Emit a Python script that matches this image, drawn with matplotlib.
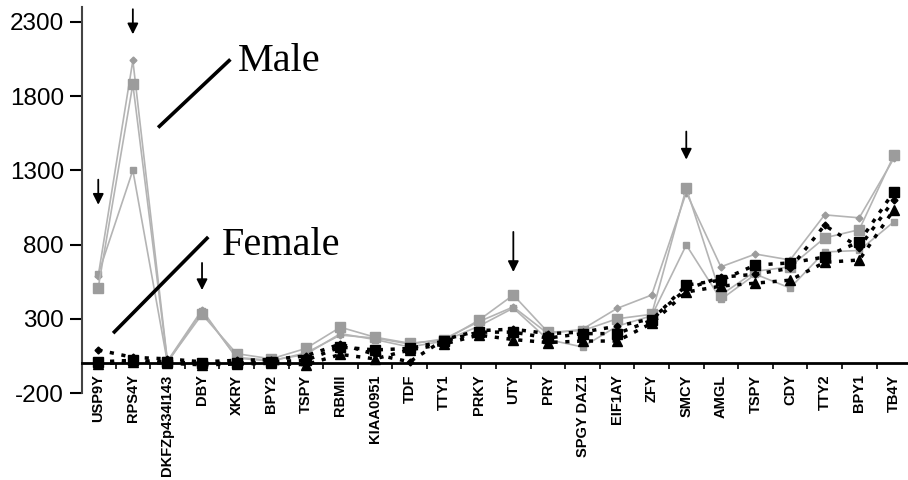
import matplotlib.pyplot as plt
from matplotlib.ticker import FixedLocator

# === DATA ===
genes = ['USP9Y', 'RPS4Y', 'DKFZp434I143', 'DBY', 'XKRY', 'BPY2', 'TSPY', 'RBMII',
         'KIAA0951', 'TDF', 'TTY1', 'PRKY', 'UTY', 'PRY', 'SPGY DAZ1', 'EIF1AY',
         'ZFY', 'SMCY', 'AMGL', 'TSPY', 'CDY', 'TTY2', 'BPY1', 'TB4Y']

male_1 = [510, 1880, 10, 330, 65, 30, 100, 243, 176, 135, 155, 290,
          460, 210, 220, 300, 330, 1180, 460, 620, 650, 845, 900, 1400]
male_2 = [600, 1300, 5, 350, 40, 20, 60, 200, 160, 110, 150, 250,
          372, 160, 110, 250, 320, 797, 430, 600, 507, 750, 760, 953]
male_3 = [590, 2040, 15, 360, 35, 15, 70, 190, 170, 130, 165, 280,
          380, 200, 230, 370, 460, 1150, 650, 736, 696, 1000, 980, 1380]

female_1 = [10, 20, 10, 0, 0, 10, 20, 110, 90, 100, 150, 210,
            210, 170, 200, 200, 290, 527, 560, 662, 676, 716, 818, 1155]
female_2 = [-5, 10, 0, -10, -5, 0, -10, 60, 30, 90, 130, 190,
            160, 140, 150, 150, 270, 480, 520, 540, 560, 680, 696, 1034]
female_3 = [90, 40, 30, 10, 20, 25, 50, 130, 60, 10, 160, 220,
            230, 200, 210, 250, 300, 500, 580, 600, 640, 930, 780, 1100]

# arrows: (gene index, top, bottom)
arrows = [(0, 1237, 1068), (1, 2385, 2216), (3, 676, 493), (12, 885, 615), (17, 1561, 1372)]

x = list(range(len(genes)))

# === FIGURE ===
fig = plt.figure(figsize=(9.08, 4.8), dpi=100)
ax = fig.add_axes([82 / 908, 87 / 480, 826 / 908, 386 / 480])

gray_line = '#b4b4b4'
gray_mark = '#9c9c9c'

ax.plot(x, male_3, color=gray_line, lw=1.2, marker='D', ms=3.5,
        mfc=gray_mark, mec=gray_mark, zorder=2)
ax.plot(x, male_2, color=gray_line, lw=1.2, marker='s', ms=4.5,
        mfc=gray_mark, mec=gray_mark, zorder=2)
ax.plot(x, male_1, color=gray_line, lw=1.2, marker='s', ms=7.5,
        mfc=gray_mark, mec=gray_mark, zorder=2)

dash = (0, (1.2, 2.2))
ax.plot(x, female_3, color='black', lw=2.5, ls=dash, marker='D', ms=3.5,
        mfc='black', mec='black', zorder=3)
ax.plot(x, female_2, color='black', lw=2.5, ls=dash, marker='^', ms=6.5,
        mfc='black', mec='black', zorder=3)
ax.plot(x, female_1, color='black', lw=2.5, ls=dash, marker='s', ms=6.5,
        mfc='black', mec='black', zorder=3)

# === AXES ===
ax.set_xlim(-0.47, 23.41)
ax.set_ylim(-200, 2400)
ax.set_yticks([-200, 300, 800, 1300, 1800, 2300])
ax.set_yticklabels(['-200', '300', '800', '1300', '1800', '2300'],
                   fontsize=17.5, family='Liberation Sans')
ax.tick_params(axis='y', direction='out', length=9, width=1.5, pad=4)

for s in ['top', 'right']:
    ax.spines[s].set_visible(False)
ax.spines['left'].set_linewidth(1.5)
ax.spines['left'].set_color('#444444')
ax.spines['bottom'].set_position(('data', 0))
ax.spines['bottom'].set_linewidth(2)

ax.xaxis.set_major_locator(FixedLocator([i + 0.5 for i in x]))
ax.xaxis.set_minor_locator(FixedLocator(x))
ax.set_xticklabels([''] * len(x))
ax.set_xticklabels(genes, minor=True, rotation=90, fontsize=10.5,
                   family='Liberation Sans', fontweight='bold', va='top')
ax.tick_params(axis='x', which='major', direction='out', length=4, width=1.2)
ax.tick_params(axis='x', which='minor', length=0, pad=8)

# === ANNOTATIONS ===
for i, top, bottom in arrows:
    ax.annotate('', xy=(i, bottom), xytext=(i, top),
                arrowprops=dict(arrowstyle='-|>', color='black', lw=1.3,
                                mutation_scale=16, shrinkA=0, shrinkB=0))

ax.plot([1.73, 3.82], [1588, 2047], color='black', lw=2.6, solid_capstyle='butt')
ax.plot([0.43, 3.18], [203, 851], color='black', lw=2.6, solid_capstyle='butt')
ax.text(4.05, 1966, 'Male', fontsize=29, family='Liberation Serif', va='baseline')
ax.text(3.58, 730, 'Female', fontsize=29, family='Liberation Serif', va='baseline')

plt.savefig('out.png', dpi=100)
